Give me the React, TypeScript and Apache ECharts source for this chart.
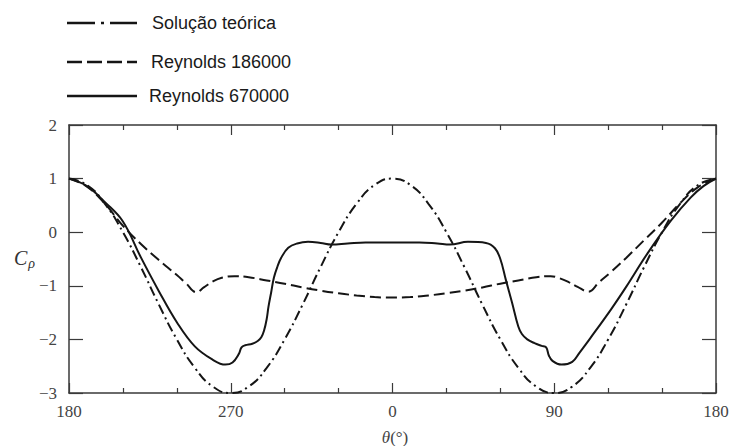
import React, { useEffect, useRef } from 'react';
import * as echarts from 'echarts';

// x position in degrees along the plot (0..360), shown with the tick labels below
const xTickLabels = ['180', '270', '0', '90', '180'];
const legendNames = ['Solução teórica', 'Reynolds 186000', 'Reynolds 670000'];

// Solução teórica
const theoryTheta = [0, 10, 20, 30, 40, 50, 60, 70, 80, 90, 100, 110, 120, 130, 140, 150, 160, 170, 180,
  190, 200, 210, 220, 230, 240, 250, 260, 270, 280, 290, 300, 310, 320, 330, 340, 350, 360];
const theoryCp = [1, 0.88, 0.53, 0, -0.65, -1.35, -2, -2.53, -2.88, -3, -2.88, -2.53, -2, -1.35, -0.65, 0, 0.53, 0.88, 1,
  0.88, 0.53, 0, -0.65, -1.35, -2, -2.53, -2.88, -3, -2.88, -2.53, -2, -1.35, -0.65, 0, 0.53, 0.88, 1];

// Reynolds 186000
const re186Theta = [0, 10, 20, 30, 40, 50, 60, 65, 71, 75, 80, 85, 92, 100, 110, 120, 130, 140, 150, 160, 170, 180,
  190, 200, 210, 220, 230, 240, 250, 260, 268, 273, 278, 283, 289, 295, 302, 310, 320, 330, 340, 350, 360];
const re186Cp = [1, 0.85, 0.53, 0.12, -0.22, -0.52, -0.8, -0.95, -1.12, -1.03, -0.92, -0.85, -0.82, -0.84, -0.9, -0.96, -1.03, -1.09, -1.14, -1.18, -1.21, -1.22,
  -1.21, -1.18, -1.14, -1.09, -1.03, -0.96, -0.9, -0.84, -0.82, -0.86, -0.93, -1.02, -1.11, -0.93, -0.73, -0.48, -0.15, 0.18, 0.54, 0.84, 1];

// Reynolds 670000
const re670Theta = [0, 10, 20, 30, 40, 50, 60, 70, 80, 87, 91, 94.5, 96, 98, 102, 105, 107, 108.5, 110, 111, 112.5, 114, 116, 118, 122, 127, 133, 140, 146, 155, 165, 180,
  195, 205, 212, 222, 232, 237, 240, 243, 246.5, 250, 252, 255, 259, 263, 265.5, 267, 269, 274, 280, 284, 290, 302, 310, 322, 335, 346, 353, 360];
const re670Cp = [1, 0.86, 0.56, 0.2, -0.47, -1.1, -1.68, -2.13, -2.38, -2.47, -2.43, -2.27, -2.15, -2.11, -2.08, -2.03, -1.96, -1.84, -1.62, -1.39, -1.12, -0.85, -0.64, -0.48, -0.29, -0.21, -0.18, -0.2, -0.23, -0.21, -0.19, -0.19,
  -0.19, -0.21, -0.23, -0.18, -0.2, -0.3, -0.5, -0.88, -1.31, -1.76, -1.9, -2.0, -2.07, -2.12, -2.15, -2.3, -2.4, -2.47, -2.42, -2.25, -1.98, -1.42, -1.02, -0.39, 0.22, 0.65, 0.86, 1];

const pairs = (xs: number[], ys: number[]) => xs.map((x, i) => [x, ys[i]]);

const INK = '#151515';
const AXIS = '#3a3a3a';
const SERIF = '"Liberation Serif", "DejaVu Serif", serif';
const SANS = '"Liberation Sans", Arial, sans-serif';

export default function App() {
  const ref = useRef<HTMLDivElement>(null);
  useEffect(() => {
    if (!ref.current) return;
    const chart = echarts.init(ref.current, undefined, { renderer: 'svg' });
    const xAxisBase = {
      type: 'value' as const,
      min: 0,
      max: 360,
      interval: 90,
      axisLine: { show: true, onZero: false, lineStyle: { color: AXIS, width: 1.5 } },
      axisTick: { show: true, inside: true, length: 10, lineStyle: { color: AXIS, width: 1.2 } },
      minorTick: { show: true, splitNumber: 3, length: 5, lineStyle: { color: AXIS, width: 1.2 } },
      splitLine: { show: false },
    };
    const yAxisBase = {
      type: 'value' as const,
      min: -3,
      max: 2,
      interval: 1,
      axisLine: { show: true, onZero: false, lineStyle: { color: AXIS, width: 1.5 } },
      axisTick: { show: true, inside: true, length: 14, lineStyle: { color: AXIS, width: 1.2 } },
      splitLine: { show: false },
    };
    const legendY = [23, 62, 96];
    const legendTextX = [152, 151, 149];
    const legendDash: any[] = [[28, 6, 3, 6], [15, 5], null];
    chart.setOption({
      animation: false,
      backgroundColor: '#ffffff',
      grid: { left: 69, right: 16, top: 125, bottom: 53 },
      xAxis: [
        {
          ...xAxisBase,
          position: 'bottom',
          axisLabel: {
            show: true,
            margin: 10,
            color: '#444',
            fontFamily: SERIF,
            fontSize: 17,
            formatter: (v: number) => xTickLabels[Math.round(v / 90)] ?? '',
          },
        },
        { ...xAxisBase, position: 'top', axisLabel: { show: false } },
      ],
      yAxis: [
        {
          ...yAxisBase,
          position: 'left',
          axisLabel: {
            show: true,
            margin: 12,
            color: '#444',
            fontFamily: SERIF,
            fontSize: 17,
            formatter: (v: number) => (v < 0 ? '\u2212' + Math.abs(v) : String(v)),
          },
        },
        { ...yAxisBase, position: 'right', axisLabel: { show: false } },
      ],
      series: [
        {
          name: legendNames[0],
          type: 'line',
          data: pairs(theoryTheta, theoryCp),
          smooth: 0.5,
          symbol: 'none',
          lineStyle: { color: INK, width: 2, type: [10, 4, 2, 4] },
        },
        {
          name: legendNames[1],
          type: 'line',
          data: pairs(re186Theta, re186Cp),
          smooth: 0.4,
          symbol: 'none',
          lineStyle: { color: INK, width: 2, type: [11, 5] },
        },
        {
          name: legendNames[2],
          type: 'line',
          data: pairs(re670Theta, re670Cp),
          smooth: 0.4,
          symbol: 'none',
          lineStyle: { color: INK, width: 2, type: 'solid' },
        },
      ],
      graphic: [
        ...legendNames.flatMap((name, i) => [
          {
            type: 'line',
            shape: { x1: 67, y1: legendY[i], x2: 137, y2: legendY[i] },
            style: { stroke: INK, lineWidth: 2.5, lineDash: legendDash[i] ?? undefined },
          },
          {
            type: 'text',
            x: legendTextX[i],
            y: legendY[i],
            style: {
              text: name,
              fontFamily: SANS,
              fontSize: 18,
              fill: '#1a1a1a',
              verticalAlign: 'middle',
              align: 'left',
            },
          },
        ]),
        {
          type: 'text',
          x: 14,
          y: 258,
          style: {
            text: '{c|C}{p|ρ}',
            verticalAlign: 'middle',
            rich: {
              c: { fontFamily: SERIF, fontStyle: 'italic', fontSize: 20, fill: '#333' },
              p: { fontFamily: SERIF, fontStyle: 'italic', fontSize: 14, fill: '#333', padding: [10, 0, 0, 1] },
            },
          },
        },
        {
          type: 'text',
          x: 395,
          y: 437,
          style: {
            text: '{t|θ}(°)',
            align: 'center',
            verticalAlign: 'middle',
            fontFamily: SERIF,
            fontSize: 17,
            fill: '#444',
            rich: {
              t: { fontFamily: SERIF, fontStyle: 'italic', fontSize: 17, fill: '#444' },
            },
          },
        },
      ],
    });
    return () => chart.dispose();
  }, []);
  return (
    <div
      ref={ref}
      style={{ position: 'fixed', left: 0, top: 0, width: 732, height: 446, background: '#fff' }}
    />
  );
}
